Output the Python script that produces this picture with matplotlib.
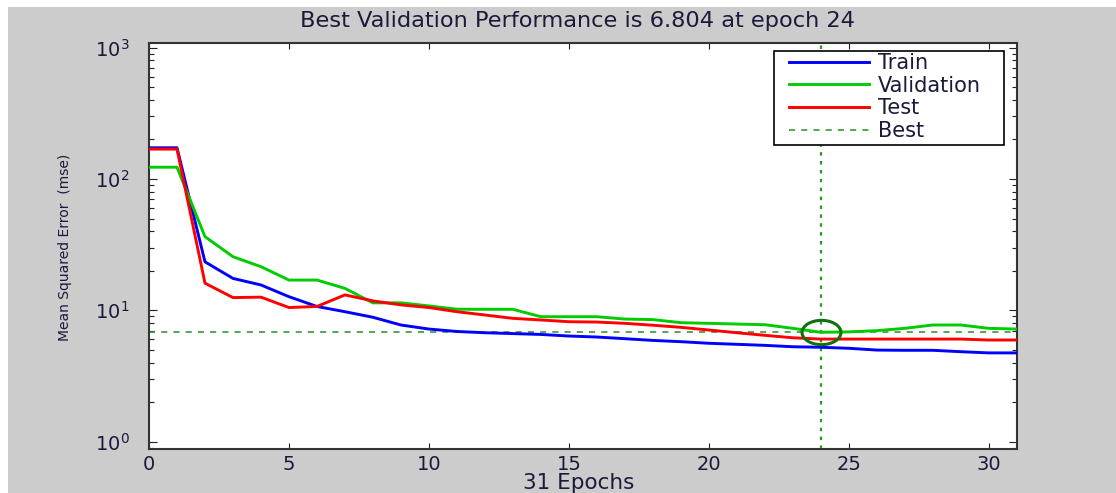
import numpy as np
import matplotlib
matplotlib.use("Agg")
import matplotlib.pyplot as plt
from matplotlib.patches import Rectangle
from matplotlib.path import Path
from matplotlib.transforms import Affine2D

plt.rcParams['font.family'] = ['DejaVu Sans']
plt.rcParams['mathtext.fontset'] = 'dejavusans'

# Training record: mean squared error per epoch
epochs = list(range(32))
train = [173, 173, 23.4, 17.5, 15.6, 12.7, 10.7, 9.76, 8.85, 7.73, 7.2, 6.9,
         6.75, 6.65, 6.55, 6.37, 6.26, 6.08, 5.9, 5.77, 5.61, 5.51, 5.41, 5.28,
         5.23, 5.14, 4.98, 4.96, 4.96, 4.84, 4.74, 4.74]
validation = [123, 123, 36.4, 25.6, 21.5, 17.0, 17.0, 14.7, 11.4, 11.4, 10.8, 10.2,
              10.18, 10.18, 8.94, 8.94, 8.94, 8.58, 8.5, 8.05, 7.96, 7.86, 7.77, 7.29,
              6.804, 6.85, 7.0, 7.29, 7.73, 7.73, 7.29, 7.2]
test = [169, 169, 16.1, 12.5, 12.6, 10.5, 10.7, 13.1, 11.8, 11.0, 10.5, 9.76,
        9.21, 8.69, 8.44, 8.19, 8.14, 7.96, 7.7, 7.42, 7.08, 6.75, 6.45, 6.18,
        6.04, 6.04, 6.04, 6.04, 6.04, 6.04, 5.94, 5.94]
best_epoch = 24
best_perf = 6.804
n_epochs = 31

TEXT = '#1a1a3a'
W, H = 1116, 493
AX_L, AX_R, AX_T, AX_B = 149, 1016.7, 42.7, 449.3


def ax_frac(px, py):
    """Pixel position -> axes fraction."""
    return (px - AX_L) / (AX_R - AX_L), (AX_B - py) / (AX_B - AX_T)


fig = plt.figure(figsize=(W / 100, H / 100), dpi=100, facecolor='white')
fig.patches.append(Rectangle((8 / W, 0), 1 - 8 / W, 1 - 7 / H,
                             transform=fig.transFigure, facecolor='#cccccc',
                             edgecolor='none', zorder=-10))

ax = fig.add_axes([AX_L / W, 1 - AX_B / H, (AX_R - AX_L) / W, (AX_B - AX_T) / H])
ax.set_facecolor('white')

ax.plot(epochs, train, color='#0000ff', lw=2.1, label='Train', zorder=3)
ax.plot(epochs, validation, color='#00cc00', lw=2.1, label='Validation', zorder=3)
ax.plot(epochs, test, color='#ff0000', lw=2.1, label='Test', zorder=3)
ax.axhline(best_perf, color='#2a8c2a', lw=1.1, ls=(0, (4, 4)), label='Best', zorder=2)
ax.axvline(best_epoch, color='#2a9a2a', lw=1.6, ls=(0, (1.6, 2.4)), zorder=2)

# elliptical ring around the best validation point
ellipse = Path(Affine2D().scale(1.6, 1.0).transform(Path.unit_circle().vertices),
               Path.unit_circle().codes)
ax.plot([best_epoch], [best_perf], marker=ellipse, ms=28, mfc='none',
        mec='#0f720f', mew=2.2, ls='none', zorder=4)

ax.set_yscale('log')
ax.set_xlim(0, n_epochs)
ax.set_ylim(0.874, 1092)
ax.set_xticks([0, 5, 10, 15, 20, 25, 30])
ax.set_yticks([1, 10, 100, 1000])

ax.tick_params(which='both', direction='in', top=True, right=True,
               labelsize=14, colors='#222222', width=0.8)
ax.tick_params(axis='y', which='major', length=6, pad=14)
ax.tick_params(axis='y', which='minor', length=3.6)
ax.tick_params(axis='x', which='major', length=4.3, pad=4)
for s in ax.spines.values():
    s.set_linewidth(1.5)
    s.set_color('#333333')
for lbl in ax.get_xticklabels() + ax.get_yticklabels():
    lbl.set_color(TEXT)

fig.text(577 / W, 1 - 21 / H, 'Best Validation Performance is 6.804 at epoch 24',
         ha='center', va='center', fontsize=16.2, color=TEXT)
fig.text(579 / W, 1 - 483 / H, '31 Epochs', ha='center', va='center',
         fontsize=15.5, color=TEXT)
fig.text(65 / W, 1 - 247 / H, 'Mean Squared Error  (mse)', ha='center', va='center',
         rotation=90, fontsize=10, color=TEXT)

# legend box
x0, y0 = ax_frac(774, 145)
x1, y1 = ax_frac(1004, 51)
ax.add_patch(Rectangle((x0, y0), x1 - x0, y1 - y0, transform=ax.transAxes,
                       facecolor='white', edgecolor='black', lw=1.2, zorder=5))
lx, ly = ax_frac(789, 53)
leg = ax.legend(loc='upper left', bbox_to_anchor=(lx, ly), fontsize=15,
                handlelength=3.84, handletextpad=0.43, labelspacing=0.13,
                borderpad=0, borderaxespad=0, frameon=False)
leg.set_zorder(6)
for t in leg.get_texts():
    t.set_color(TEXT)

fig.savefig('out.png', dpi=100, facecolor=fig.get_facecolor())
